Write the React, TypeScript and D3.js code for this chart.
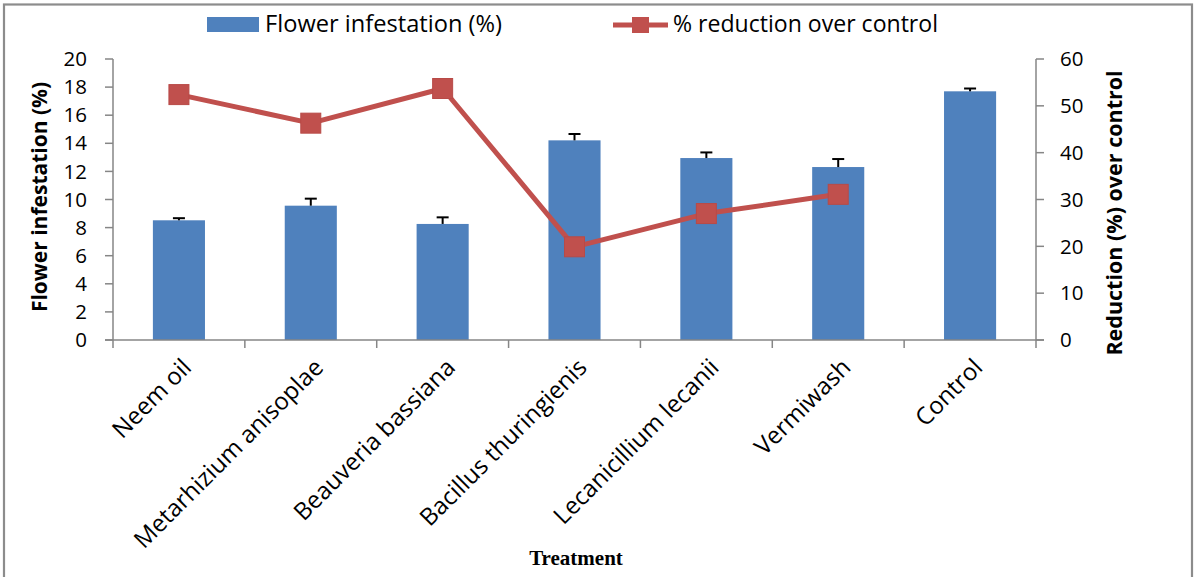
import React from "react";
import * as d3 from "d3";

const categories = [
  "Neem oil",
  "Metarhizium anisoplae",
  "Beauveria bassiana",
  "Bacillus thuringienis",
  "Lecanicillium lecanii",
  "Vermiwash",
  "Control",
];
const infestation = [8.52, 9.56, 8.26, 14.21, 12.95, 12.31, 17.7];
const infestationErr = [0.15, 0.5, 0.47, 0.45, 0.4, 0.57, 0.2];
const reduction: (number | null)[] = [52.4, 46.3, 53.7, 19.9, 27.0, 31.1, null];
const leftTicks = [0, 2, 4, 6, 8, 10, 12, 14, 16, 18, 20];
const rightTicks = [0, 10, 20, 30, 40, 50, 60];

const W = 1196;
const H = 577;
const PL = 113;
const PR = 1036;
const PT = 59;
const PB = 340;

const BAR = "#4F81BD";
const RED = "#C0504D";
const AXIS = "#868686";
const FONT = "'Open Sans', 'DejaVu Sans', sans-serif";

export default function App() {
  const x = d3
    .scaleBand<string>()
    .domain(categories)
    .range([PL, PR])
    .paddingInner(0.605)
    .paddingOuter(0.3025);
  const step = x.step();
  const yL = d3.scaleLinear().domain([0, 20]).range([PB, PT]);
  const yR = d3.scaleLinear().domain([0, 60]).range([PB, PT]);

  const linePts = categories
    .map((c, i) => ({ c, v: reduction[i] }))
    .filter((d) => d.v !== null) as { c: string; v: number }[];
  const lineGen = d3
    .line<{ c: string; v: number }>()
    .x((d) => (x(d.c) as number) + x.bandwidth() / 2)
    .y((d) => yR(d.v));

  const boundaries = d3.range(categories.length + 1).map((k) => PL + k * step);
  const ms = 20;

  return (
    <svg
      width={W}
      height={H}
      style={{ position: "absolute", left: 0, top: 0, background: "#fff" }}
      fontFamily={FONT}
    >
      <rect x={0} y={0} width={W} height={H} fill="#fff" />
      <rect x={4} y={4.5} width={1188} height={640} fill="none" stroke="#8c8c8c" strokeWidth={2.2} />

      {/* legend */}
      <rect x={207} y={17} width={52} height={15} fill={BAR} />
      <text x={265} y={32} fontSize={23} fill="#000" textLength={237} lengthAdjust="spacingAndGlyphs">
        Flower infestation (%)
      </text>
      <line x1={613} x2={668} y1={25} y2={25} stroke={RED} strokeWidth={5} />
      <rect x={632} y={17} width={17} height={16} fill={RED} />
      <text x={673} y={32} fontSize={23} fill="#000" textLength={265} lengthAdjust="spacingAndGlyphs">
        % reduction over control
      </text>

      {/* bars */}
      {categories.map((c, i) => (
        <rect
          key={c}
          x={x(c) as number}
          y={yL(infestation[i])}
          width={x.bandwidth()}
          height={PB - yL(infestation[i])}
          fill={BAR}
        />
      ))}
      {/* error bars */}
      {categories.map((c, i) => {
        const cx = (x(c) as number) + x.bandwidth() / 2;
        const yTop = yL(infestation[i] + infestationErr[i]);
        return (
          <g key={"e" + c} stroke="#000" strokeWidth={2}>
            <line x1={cx} x2={cx} y1={yL(infestation[i])} y2={yTop} />
            <line x1={cx - 6} x2={cx + 6} y1={yTop} y2={yTop} />
          </g>
        );
      })}

      {/* axes */}
      <g stroke={AXIS} strokeWidth={1.5}>
        <line x1={PL} x2={PL} y1={PT} y2={PB} />
        <line x1={PR} x2={PR} y1={PT} y2={PB} />
        <line x1={PL - 8} x2={PR + 8} y1={PB} y2={PB} />
        {leftTicks.map((t) => (
          <line key={"lt" + t} x1={PL - 8} x2={PL} y1={yL(t)} y2={yL(t)} />
        ))}
        {rightTicks.map((t) => (
          <line key={"rt" + t} x1={PR} x2={PR + 8} y1={yR(t)} y2={yR(t)} />
        ))}
        {boundaries.map((b, k) => (
          <line key={"xt" + k} x1={b} x2={b} y1={PB} y2={PB + 8} />
        ))}
      </g>

      {/* line series */}
      <path d={lineGen(linePts) || ""} fill="none" stroke={RED} strokeWidth={5} strokeLinejoin="round" />
      {linePts.map((d) => {
        const cx = (x(d.c) as number) + x.bandwidth() / 2;
        return (
          <rect
            key={"m" + d.c}
            x={cx - ms / 2}
            y={yR(d.v) - ms / 2}
            width={ms}
            height={ms}
            fill={RED}
            stroke="#b84a47"
            strokeWidth={1}
          />
        );
      })}

      {/* tick labels */}
      {leftTicks.map((t) => (
        <text key={"ll" + t} x={87} y={yL(t)} dy="0.35em" textAnchor="end" fontSize={20.5} fill="#000">
          {t}
        </text>
      ))}
      {rightTicks.map((t) => (
        <text key={"rl" + t} x={1060} y={yR(t)} dy="0.35em" textAnchor="start" fontSize={20.5} fill="#000">
          {t}
        </text>
      ))}

      {/* category labels */}
      {categories.map((c) => {
        const cx = (x(c) as number) + x.bandwidth() / 2;
        return (
          <text
            key={"cl" + c}
            transform={`translate(${cx + 8},${363}) rotate(-45)`}
            textAnchor="end"
            dy="0.35em"
            fontSize={24}
            fill="#000"
          >
            {c}
          </text>
        );
      })}

      {/* axis titles */}
      <text
        transform={`translate(47,${197}) rotate(-90)`}
        textAnchor="middle"
        fontSize={21}
        fontWeight="bold"
        fill="#000"
      >
        Flower infestation (%)
      </text>
      <text
        transform={`translate(1122,213) rotate(-90)`}
        textAnchor="middle"
        fontSize={21.5}
        fontWeight="bold"
        fill="#000"
      >
        Reduction (%) over control
      </text>
      <text
        x={576}
        y={565}
        textAnchor="middle"
        fontSize={21}
        fontWeight="bold"
        fontFamily="'Liberation Serif', 'Times New Roman', serif"
        fill="#000"
      >
        Treatment
      </text>
    </svg>
  );
}
